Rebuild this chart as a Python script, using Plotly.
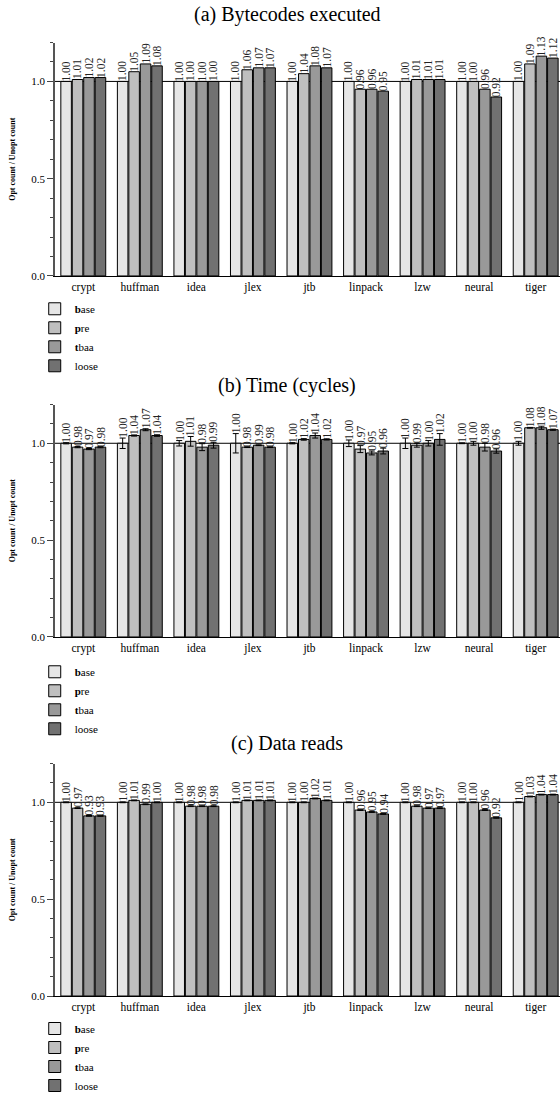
import plotly.graph_objects as go

categories = ["crypt", "huffman", "idea", "jlex", "jtb", "linpack", "lzw", "neural", "tiger"]
series_names = ["base", "pre", "tbaa", "loose"]
legend_labels = ["<b>b</b>ase", "<b>p</b>re", "<b>t</b>baa", "loose"]
panel_titles = ["(a) Bytecodes executed", "(b) Time (cycles)", "(c) Data reads"]

# (a) Bytecodes executed
bytecodes_base = [1.00, 1.00, 1.00, 1.00, 1.00, 1.00, 1.00, 1.00, 1.00]
bytecodes_pre = [1.01, 1.05, 1.00, 1.06, 1.04, 0.96, 1.01, 1.00, 1.09]
bytecodes_tbaa = [1.02, 1.09, 1.00, 1.07, 1.08, 0.96, 1.01, 0.96, 1.13]
bytecodes_loose = [1.02, 1.08, 1.00, 1.07, 1.07, 0.95, 1.01, 0.92, 1.12]

# (b) Time (cycles) with error half-widths
time_base = [1.00, 1.00, 1.00, 1.00, 1.00, 1.00, 1.00, 1.00, 1.00]
time_pre = [0.98, 1.04, 1.01, 0.98, 1.02, 0.97, 0.99, 1.00, 1.08]
time_tbaa = [0.97, 1.07, 0.98, 0.99, 1.04, 0.95, 1.00, 0.98, 1.08]
time_loose = [0.98, 1.04, 0.99, 0.98, 1.02, 0.96, 1.02, 0.96, 1.07]
time_base_err = [0.003, 0.027, 0.014, 0.050, 0.003, 0.017, 0.027, 0.002, 0.010]
time_pre_err = [0.003, 0.003, 0.025, 0.002, 0.004, 0.018, 0.010, 0.010, 0.002]
time_tbaa_err = [0.003, 0.005, 0.018, 0.002, 0.013, 0.010, 0.014, 0.020, 0.008]
time_loose_err = [0.003, 0.004, 0.015, 0.002, 0.003, 0.015, 0.030, 0.011, 0.003]

# (c) Data reads
reads_base = [1.00, 1.00, 1.00, 1.00, 1.00, 1.00, 1.00, 1.00, 1.00]
reads_pre = [0.97, 1.01, 0.98, 1.01, 1.00, 0.96, 0.98, 1.00, 1.03]
reads_tbaa = [0.93, 0.99, 0.98, 1.01, 1.02, 0.95, 0.97, 0.96, 1.04]
reads_loose = [0.93, 1.00, 0.98, 1.01, 1.01, 0.94, 0.97, 0.92, 1.04]
reads_err = [0.002, 0.002, 0.002, 0.002, 0.002, 0.002, 0.002, 0.002, 0.002]

panels = [
    ([bytecodes_base, bytecodes_pre, bytecodes_tbaa, bytecodes_loose], None),
    ([time_base, time_pre, time_tbaa, time_loose],
     [time_base_err, time_pre_err, time_tbaa_err, time_loose_err]),
    ([reads_base, reads_pre, reads_tbaa, reads_loose],
     [reads_err, reads_err, reads_err, reads_err]),
]

colors = ["#e6e6e6", "#bfbfbf", "#999999", "#717171"]
FONT = "Liberation Serif"
W, H = 560, 1100
LEFT_PX = 55
X_RANGE = [-0.5, 8.43]
BARGAP = 0.19

# vertical layout in pixels: (plot top, plot bottom, title center, legend center)
panel_px = [(43, 279, 15, 341), (409, 644, 390, 708), (772, 1007, 752, 1069)]

fig = go.Figure()
annotations = []
shapes = []

px_per_cat = (W - LEFT_PX) / (X_RANGE[1] - X_RANGE[0])
slot_px = (1 - BARGAP) * px_per_cat / 4

for p, (vals, errs) in enumerate(panels):
    sfx = "" if p == 0 else str(p + 1)
    xa, ya = "x" + sfx, "y" + sfx
    leg = "legend" + sfx
    for k in range(4):
        err = errs[k] if errs is not None else None
        fig.add_trace(go.Bar(
            x=categories, y=vals[k], name=legend_labels[k],
            marker=dict(color=colors[k], line=dict(color="black", width=1)),
            error_y=(dict(type="data", array=err, visible=True, color="black",
                          thickness=1, width=3) if err is not None else None),
            xaxis=xa, yaxis=ya, legend=leg, showlegend=True,
        ))
        for i, c in enumerate(categories):
            top = vals[k][i] + (err[i] if err is not None else 0)
            annotations.append(dict(
                x=c, y=top, xref=xa, yref=ya, text=f"{vals[k][i]:.2f}",
                textangle=-90, showarrow=False, xanchor="center", yanchor="bottom",
                xshift=(k - 1.5) * slot_px, yshift=-1, borderpad=0,
                font=dict(family=FONT, size=11.5, color="#222"),
            ))
    top_px, bot_px, title_px, leg_px = panel_px[p]
    dom = [1 - bot_px / H, 1 - top_px / H]
    fig.update_layout(**{
        ("xaxis" + sfx): dict(
            domain=[LEFT_PX / W, 1], range=X_RANGE, type="category", anchor=ya,
            showline=True, linecolor="black", linewidth=1, ticks="", showgrid=False,
            zeroline=False, tickfont=dict(family=FONT, size=11.5, color="black"),
        ),
        ("yaxis" + sfx): dict(
            domain=dom, range=[0, 1.2], anchor=xa, tickvals=[0, 0.5, 1.0],
            ticktext=["0.0", "0.5", "1.0"], ticks="outside", ticklen=6, tickwidth=1,
            tickcolor="#444", showline=True, linecolor="#555", linewidth=1.5,
            showgrid=False, zeroline=False,
            minor=dict(dtick=0.1, tick0=0, ticks="outside", ticklen=3, tickcolor="#444"),
            tickfont=dict(family=FONT, size=11, color="black"),
            title=dict(text="<b>Opt count / Unopt count</b>", standoff=14,
                       font=dict(family=FONT, size=8, color="black")),
        ),
        leg: dict(
            x=0.062, xanchor="left", y=1 - leg_px / H, yanchor="middle",
            font=dict(family=FONT, size=11, color="black"), bgcolor="rgba(0,0,0,0)",
            tracegroupgap=0, itemwidth=30,
        ),
    })
    shapes.append(dict(type="line", xref=xa + " domain", yref=ya, x0=0, x1=1, y0=1, y1=1,
                       line=dict(color="black", width=1), layer="below"))
    annotations.append(dict(
        x=287 / W, y=1 - title_px / H, xref="paper", yref="paper", text=panel_titles[p],
        showarrow=False, xanchor="center", yanchor="middle",
        font=dict(family=FONT, size=20, color="black"),
    ))

fig.update_layout(
    width=W, height=H, autosize=False, margin=dict(l=0, r=0, t=0, b=0),
    barmode="group", bargap=BARGAP, bargroupgap=0.08,
    plot_bgcolor="white", paper_bgcolor="white",
    annotations=annotations, shapes=shapes,
)

fig.write_html(
    "out.html",
    config={"displayModeBar": False},
    post_script="document.body.style.margin='0px';document.body.style.overflow='hidden';",
)
